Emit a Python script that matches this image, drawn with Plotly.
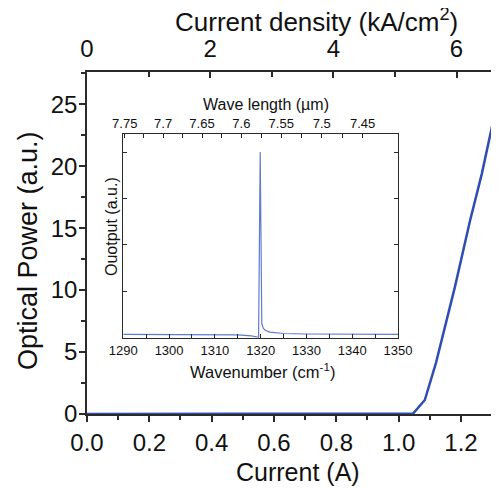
import plotly.graph_objects as go

# Main L-I curve
current_A = [0.0, 0.2, 0.4, 0.6, 0.8, 1.0, 1.047, 1.084, 1.120, 1.180, 1.229, 1.267, 1.309]
power_au = [0.0, 0.0, 0.0, 0.0, 0.0, 0.0, 0.05, 1.13, 4.15, 10.2, 15.6, 19.4, 24.3]

# Inset spectrum
wavenumber = [1290, 1300, 1310, 1315, 1318, 1319.2, 1319.55, 1319.9, 1320.25, 1320.6, 1321, 1322, 1325, 1330, 1340, 1350]
intensity = [0.07, 0.07, 0.06, 0.06, 0.04, 0.02, 0.01, 4.0, 0.3, 0.2, 0.16, 0.12, 0.09, 0.08, 0.07, 0.07]

wl_ticks = [7.75, 7.7, 7.65, 7.6, 7.55, 7.5, 7.45]
wl_ticklabels = ["7.75", "7.7", "7.65", "7.6", "7.55", "7.5", "7.45"]
wl_minor = [7.725, 7.675, 7.625, 7.575, 7.525, 7.475]

density_per_amp = 5.06
x_max = 1.322

FONT = "Arial, Liberation Sans, sans-serif"
AX = "#2a2a2a"
W, H = 499, 488      # window size
OFF = 8              # page body margin offset of the rendered figure
FW, FH = W - OFF, H - OFF

# plot area in screen pixels
PL, PR, PT, PB = 87, 499, 72, 414

fig = go.Figure()
fig.add_trace(go.Scatter(x=current_A, y=power_au, mode="lines",
                         line=dict(color="#2f4db3", width=2.5), xaxis="x", yaxis="y",
                         showlegend=False))
fig.add_trace(go.Scatter(x=[0, x_max * density_per_amp], y=[0, 0], mode="lines",
                         line=dict(width=0), xaxis="x2", yaxis="y", showlegend=False,
                         hoverinfo="skip"))
fig.add_trace(go.Scatter(x=wavenumber, y=intensity, mode="lines",
                         line=dict(color="rgba(70,100,195,0.85)", width=1.2),
                         xaxis="x3", yaxis="y3", showlegend=False))
fig.add_trace(go.Scatter(x=[1290, 1350], y=[0, 0], mode="lines", line=dict(width=0),
                         xaxis="x4", yaxis="y3", showlegend=False, hoverinfo="skip"))
fig.add_trace(go.Scatter(x=[1290, 1350], y=[0, 0], mode="lines", line=dict(width=0),
                         xaxis="x5", yaxis="y3", showlegend=False, hoverinfo="skip"))

main_ax = dict(showline=True, linecolor=AX, linewidth=1.5, tickcolor=AX, tickwidth=1.5,
               showgrid=False, zeroline=False, automargin=False,
               tickfont=dict(size=24, color="#111"))

ins_ax = dict(showline=True, linecolor=AX, linewidth=1.2, tickcolor=AX, tickwidth=1,
              showgrid=False, zeroline=False, automargin=False,
              tickfont=dict(size=13, color="#111"))

wn_major = [10000 / w for w in wl_ticks]
wn_minor = [10000 / w for w in wl_minor]


def px(x):
    return (x - PL) / (PR - PL)


def py(y):
    return (PB - y) / (PB - PT)


annotations = [
    dict(text="Current (A)", x=px(298), y=py(472), font=dict(size=25)),
    dict(text="Current density (kA/cm<sup>2</sup>)", x=px(316), y=py(21), font=dict(size=26)),
    dict(text="Optical Power (a.u.)", x=px(28), y=py(251), textangle=-90, font=dict(size=27)),
    dict(text="Wave length (µm)", x=px(266), y=py(105), font=dict(size=16)),
    dict(text="Wavenumber (cm<sup>-1</sup>)", x=px(262), y=py(371), font=dict(size=16.5)),
    dict(text="Ouotput (a.u.)", x=px(111), y=py(227), textangle=-90, font=dict(size=16)),
]
for a in annotations:
    a.update(xref="paper", yref="paper", showarrow=False, xanchor="center", yanchor="middle")

fig.update_layout(
    width=FW, height=FH,
    margin=dict(l=PL - OFF, r=max(0, FW + OFF - PR), t=PT - OFF, b=FH + OFF - PB),
    paper_bgcolor="white", plot_bgcolor="white",
    font=dict(family=FONT, color="#111"),
    annotations=annotations,
    xaxis=dict(**main_ax, range=[0, x_max], dtick=0.2, tick0=0, tickformat=".1f",
               ticks="outside", ticklen=6, ticklabelstandoff=0,
               minor=dict(dtick=0.1, ticks="outside", ticklen=4, tickcolor=AX),
               anchor="y"),
    xaxis2=dict(**main_ax, range=[0, x_max * density_per_amp], dtick=2, tick0=0,
                ticks="inside", ticklen=6, side="top", overlaying="x", anchor="y",
                ticklabelstandoff=4,
                minor=dict(dtick=1, ticks="inside", ticklen=5, tickcolor=AX)),
    yaxis=dict(**main_ax, range=[0, 27.6], dtick=5, tick0=0, ticks="outside", ticklen=6,
               ticklabelstandoff=-3,
               minor=dict(dtick=2.5, ticks="outside", ticklen=4, tickcolor=AX),
               anchor="x"),
    xaxis3=dict(**ins_ax, domain=[px(123.3), px(398)], anchor="y3", range=[1290, 1350],
                dtick=10, tick0=1290, ticks="inside", ticklen=4, ticklabelstandoff=1,
                minor=dict(dtick=5, ticks="inside", ticklen=4, tickcolor=AX)),
    xaxis4=dict(**ins_ax, overlaying="x3", anchor="y3", side="top", range=[1290, 1350],
                tickmode="array", tickvals=wn_major, ticktext=wl_ticklabels,
                ticks="inside", ticklen=4, ticklabelstandoff=0),
    xaxis5=dict(overlaying="x3", anchor="y3", side="top", range=[1290, 1350],
                tickmode="array", tickvals=wn_minor, showticklabels=False,
                ticks="inside", ticklen=4, tickcolor=AX, showline=False, showgrid=False,
                zeroline=False, automargin=False),
    yaxis3=dict(**ins_ax, domain=[py(337.7), py(134)], anchor="x3", range=[0, 4.39],
                dtick=1, tick0=0, ticks="inside", ticklen=4, mirror="ticks",
                showticklabels=False),
)

fig.write_html("out.html")
